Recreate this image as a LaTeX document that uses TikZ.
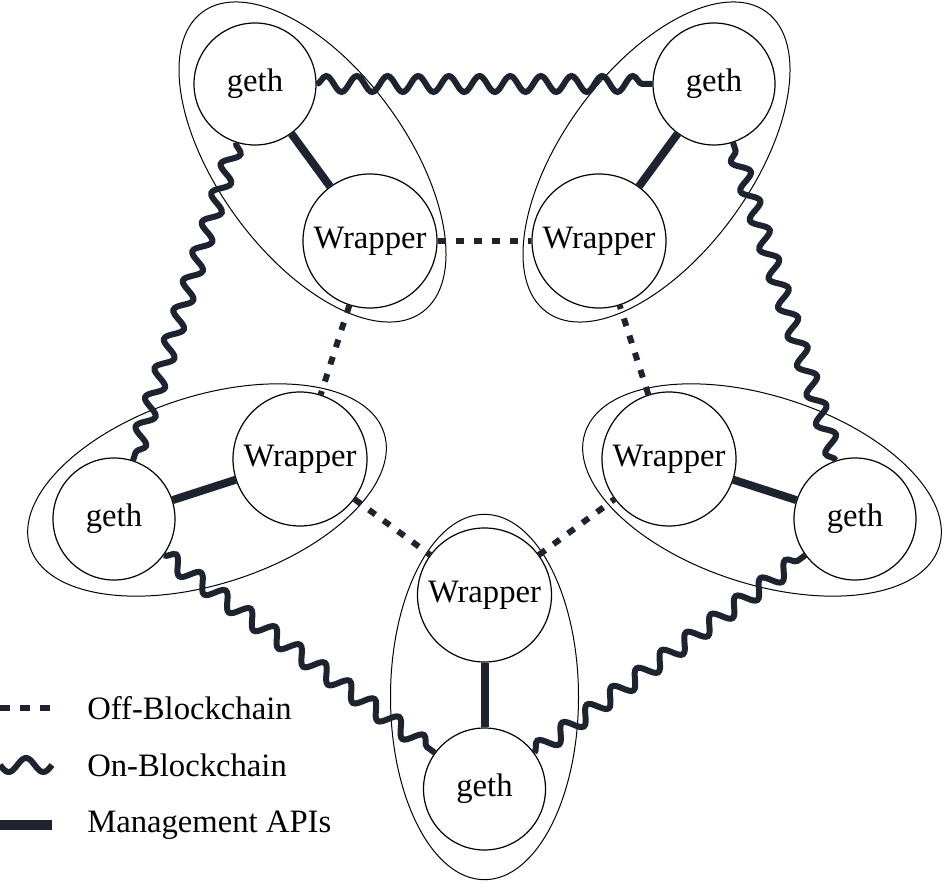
\documentclass[tikz,border=0pt]{standalone}
\usepackage{fontspec}
\setmainfont{Liberation Serif}
\usetikzlibrary{decorations.pathmorphing}
\definecolor{lnk}{RGB}{30,35,48}
\begin{document}
\begin{tikzpicture}[x=0.75pt,y=0.75pt,
  gethnode/.style={circle,draw,line width=0.9pt,minimum size=91.5pt,inner sep=0pt,font=\fontsize{24.5}{28}\selectfont},
  wrapnode/.style={circle,draw,line width=0.9pt,minimum size=100.5pt,inner sep=0pt,font=\fontsize{24.5}{28}\selectfont},
  grp/.style={draw,line width=0.75pt},
  offchain/.style={draw=lnk,line width=4.5pt,dash pattern=on 6pt off 7.5pt},
  onchain/.style={draw=lnk,line width=4.5pt,decorate,decoration={snake,amplitude=6pt,segment length=23pt}},
  mgmt/.style={draw=lnk,line width=6pt},
  legendtext/.style={anchor=west,font=\fontsize{24.5}{28}\selectfont,inner sep=0pt}]
\useasboundingbox (0,0) rectangle (945,882);
% group ellipses
\draw[grp,rotate around={-53.8:(312.5,720)}] (312.5,720) ellipse [x radius=139.5pt, y radius=70.5pt];
\draw[grp,rotate around={53.8:(656.5,720)}] (656.5,720) ellipse [x radius=139.5pt, y radius=70.5pt];
\draw[grp,rotate around={17.9:(207,392)}] (207,392) ellipse [x radius=139.5pt, y radius=70.5pt];
\draw[grp,rotate around={-17.9:(762,392)}] (762,392) ellipse [x radius=139.5pt, y radius=70.5pt];
\draw[grp] (484.5,185) ellipse [x radius=70.5pt, y radius=137pt];
% nodes
\node[gethnode] (tlg) at (255,798) {geth};
\node[wrapnode] (tlw) at (370,641) {Wrapper};
\node[gethnode] (trg) at (714,798) {geth};
\node[wrapnode] (trw) at (599,641) {Wrapper};
\node[gethnode] (lg) at (114,363) {geth};
\node[wrapnode] (lw) at (300,423) {Wrapper};
\node[gethnode] (rg) at (855,363) {geth};
\node[wrapnode] (rw) at (669,423) {Wrapper};
\node[wrapnode] (bw) at (484.5,287) {Wrapper};
\node[gethnode] (bg) at (484.5,93) {geth};
% management APIs
\draw[mgmt] (tlg) -- (tlw);
\draw[mgmt] (trg) -- (trw);
\draw[mgmt] (lg) -- (lw);
\draw[mgmt] (rg) -- (rw);
\draw[mgmt] (bw) -- (bg);
% off-blockchain
\draw[offchain] (tlw) -- (trw);
\draw[offchain] (tlw) -- (lw);
\draw[offchain] (lw) -- (bw);
\draw[offchain] (bw) -- (rw);
\draw[offchain] (rw) -- (trw);
% on-blockchain
\draw[onchain] (tlg) -- (trg);
\draw[onchain] (tlg) -- (lg);
\draw[onchain] (lg) -- (bg);
\draw[onchain] (bg) -- (rg);
\draw[onchain] (rg) -- (trg);
% legend
\coordinate (d1) at (0,174);
\coordinate (d2) at (50,174);
\coordinate (s1) at (0,117);
\coordinate (m1) at (0,57);
\coordinate (m2) at (52,57);
\draw[draw=lnk,line width=4.5pt,dash pattern=on 7.5pt off 7.5pt] (d1) -- (d2);
\draw[draw=lnk,line width=4.5pt] plot[domain=0:52,samples=40,smooth] (\x,{117-7*sin(\x/52*540)});
\draw[draw=lnk,line width=7pt] (m1) -- (m2);
\node[legendtext] (l1) at (87,174) {Off-Blockchain};
\node[legendtext] (l2) at (87,117) {On-Blockchain};
\node[legendtext] (l3) at (87,57) {Management APIs};
\end{tikzpicture}
\end{document}
